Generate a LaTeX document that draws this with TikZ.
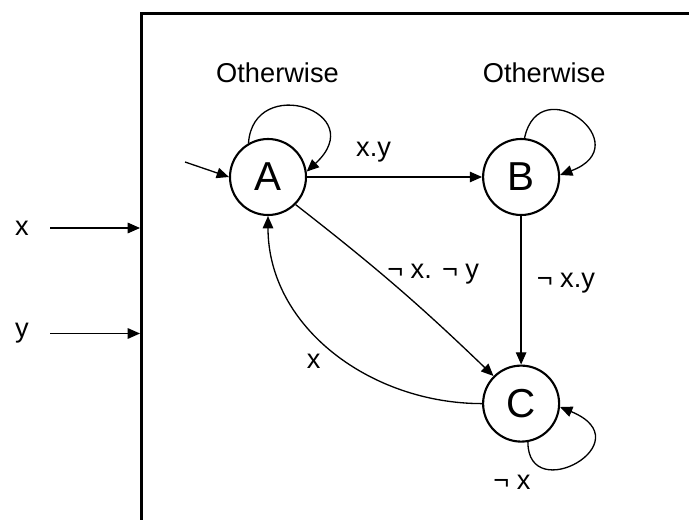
\documentclass[tikz,border=0pt]{standalone}
\usepackage{fontspec}
\setmainfont{Liberation Sans}
\usetikzlibrary{arrows.meta,positioning}

\begin{document}
\begin{tikzpicture}[
  state/.style={draw, circle, line width=1.2pt, minimum size=1.52cm, inner sep=0pt, font=\fontsize{23}{27}\selectfont},
  lbl/.style={inner sep=2pt, font=\fontsize{15.5}{18}\selectfont},
  arr/.style={-{Triangle[length=7pt,width=6pt]}, line width=0.75pt}
]
\clip (0,0) rectangle (13.78,-10.4);

% system box, runs off the page on the right and bottom
\node[draw, line width=1.5pt, anchor=north west, minimum width=11.4cm, minimum height=10.3cm, inner sep=0pt] (sys) at (2.8,-0.24) {};

\node[state] (A) at (5.36,-3.54) {A};
\node[state, right=3.5cm of A] (B) {B};
\node[state, below=2.97cm of B] (C) {C};

\node[lbl, above=1.03cm of A, xshift=0.19cm] (otherA) {Otherwise};
\node[lbl, above=1.03cm of B, xshift=0.46cm] (otherB) {Otherwise};

% inputs
\node[lbl] (inx) at (0.44,-4.56) {x};
\node[lbl] (iny) at (0.44,-6.67) {y};
\draw[arr, shorten <=3.5mm] (inx) -- (inx -| sys.west);
\draw[arr, shorten <=3.5mm] (iny) -- (iny -| sys.west);

% transitions
\coordinate (init) at (3.7,-3.24);
\draw[arr] (init) -- (A.west);
\draw[arr] (A.120) .. controls +(0.1,1.4) and +(1.3,1.2) .. (A.8);
\draw[arr] (B.85) .. controls +(0.3,1.4) and +(1.6,0.6) .. (B.3);
\draw[arr] (C.-80) .. controls +(0,-1.3) and +(1.7,-0.7) .. node[lbl, pos=0.15, below left, yshift=-1.6mm] {¬ x} (C.-5);

\draw[arr] (A) -- node[lbl, above=2.2mm, pos=0.38] {x.y} (B);
\draw[arr] (B) -- node[lbl, right=2.3mm, pos=0.45] {¬ x.y} (C);
\draw[arr] (A.-45) to[bend left=3] node[lbl, pos=0.5, xshift=0.72cm, yshift=0.26cm] {¬ x. ¬ y} (C.135);
\draw[arr] (C.west) to[out=180, in=-90] node[lbl, pos=0.45, left=4.2mm] {x} (A.south);

\end{tikzpicture}
\end{document}
